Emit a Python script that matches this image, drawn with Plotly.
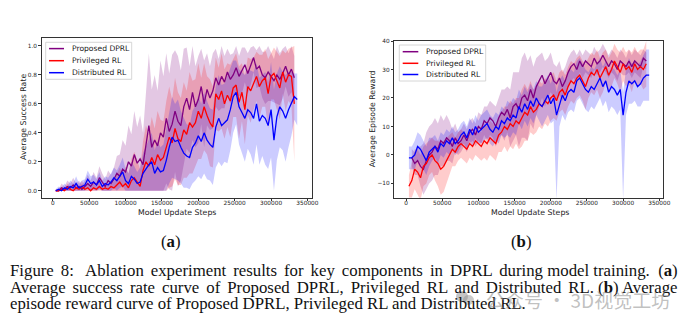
import numpy as np
import plotly.graph_objects as go

W, H = 688, 329
def px(x): return x / W
def py(y): return 1 - y / H

series_names = ["Proposed DPRL", "Privileged RL", "Distributed RL"]
series_colors = ["#800080", "#ff0000", "#0000ff"]
band_colors = ["rgba(128,0,128,0.22)", "rgba(255,0,0,0.2)", "rgba(0,0,255,0.2)"]

steps = list(range(4000, 340001, 4000))

# ---------------- (a) success rate ----------------
purple_a = [0.00,0.00,0.02,0.01,0.03,0.02,0.04,0.02,0.03,0.01,
            0.03,0.05,0.03,0.06,0.04,0.09,0.06,0.03,0.07,0.05,
            0.08,0.12,0.10,0.15,0.13,0.20,0.17,0.25,0.19,0.22,
            0.18,0.30,0.45,0.30,0.35,0.31,0.40,0.37,0.50,0.41,
            0.46,0.55,0.48,0.45,0.58,0.64,0.56,0.68,0.58,0.63,
            0.72,0.60,0.70,0.64,0.69,0.78,0.73,0.79,0.75,0.82,
            0.77,0.80,0.85,0.79,0.83,0.87,0.81,0.86,0.92,0.84,
            0.86,0.80,0.78,0.82,0.79,0.76,0.80,0.77,0.81,0.86,
            0.80,0.84,0.78]
purple_a_spread = [0.01,0.01,0.03,0.02,0.04,0.03,0.05,0.03,0.04,0.03,
                   0.04,0.06,0.04,0.07,0.05,0.08,0.06,0.05,0.07,0.06,
                   0.08,0.12,0.15,0.20,0.18,0.25,0.22,0.30,0.25,0.30,
                   0.22,0.35,0.50,0.40,0.45,0.38,0.50,0.42,0.45,0.40,
                   0.48,0.42,0.45,0.38,0.40,0.35,0.30,0.33,0.28,0.30,
                   0.26,0.30,0.25,0.22,0.26,0.20,0.18,0.22,0.18,0.16,
                   0.17,0.15,0.18,0.14,0.16,0.12,0.14,0.13,0.10,0.13,
                   0.14,0.16,0.18,0.20,0.17,0.15,0.20,0.18,0.17,0.14,
                   0.15,0.16,0.15]
red_a = [0.00,0.00,0.01,0.00,0.02,0.01,0.00,0.02,0.01,0.03,
         0.01,0.02,0.00,0.02,0.01,0.03,0.01,0.02,0.01,0.03,
         0.02,0.04,0.06,0.03,0.05,0.02,0.07,0.09,0.06,0.03,
         0.14,0.20,0.17,0.23,0.18,0.25,0.21,0.23,0.30,0.37,
         0.33,0.43,0.36,0.34,0.42,0.39,0.47,0.44,0.47,0.55,
         0.50,0.58,0.52,0.47,0.44,0.67,0.63,0.69,0.60,0.66,
         0.62,0.71,0.73,0.61,0.68,0.56,0.72,0.69,0.74,0.79,
         0.72,0.76,0.78,0.67,0.79,0.81,0.76,0.71,0.82,0.75,
         0.80,0.79,0.60]
red_a_spread = [0.01,0.01,0.02,0.01,0.03,0.02,0.01,0.03,0.02,0.04,
                0.02,0.03,0.02,0.03,0.02,0.04,0.02,0.03,0.02,0.04,
                0.04,0.08,0.10,0.08,0.12,0.10,0.15,0.18,0.15,0.12,
                0.20,0.25,0.22,0.28,0.25,0.30,0.28,0.25,0.32,0.35,
                0.30,0.35,0.32,0.30,0.33,0.30,0.35,0.32,0.30,0.33,
                0.28,0.30,0.27,0.30,0.28,0.25,0.22,0.26,0.24,0.22,
                0.25,0.20,0.22,0.25,0.20,0.24,0.20,0.22,0.18,0.17,
                0.22,0.18,0.20,0.24,0.16,0.18,0.20,0.22,0.15,0.20,
                0.18,0.20,0.40]
blue_a = [0.00,0.01,0.00,0.02,0.01,0.03,0.02,0.05,0.02,0.03,
          0.04,0.08,0.05,0.06,0.04,0.07,0.03,0.05,0.04,0.06,
          0.09,0.07,0.10,0.13,0.07,0.05,0.10,0.08,0.05,0.06,
          0.12,0.15,0.18,0.20,0.12,0.16,0.13,0.14,0.21,0.30,
          0.37,0.34,0.35,0.30,0.26,0.24,0.23,0.30,0.33,0.38,
          0.34,0.40,0.35,0.32,0.30,0.44,0.50,0.45,0.47,0.49,
          0.56,0.65,0.68,0.58,0.54,0.50,0.56,0.54,0.50,0.60,
          0.48,0.52,0.50,0.45,0.56,0.35,0.51,0.58,0.55,0.50,
          0.56,0.60,0.65,0.63]
blue_a_spread = [0.01,0.02,0.02,0.03,0.02,0.04,0.03,0.05,0.03,0.04,
                 0.04,0.06,0.05,0.05,0.04,0.06,0.04,0.05,0.05,0.06,
                 0.07,0.07,0.08,0.10,0.08,0.07,0.10,0.09,0.08,0.10,
                 0.14,0.16,0.18,0.20,0.16,0.18,0.17,0.18,0.22,0.25,
                 0.28,0.26,0.28,0.25,0.24,0.22,0.22,0.25,0.26,0.28,
                 0.26,0.28,0.27,0.25,0.26,0.28,0.30,0.28,0.27,0.30,
                 0.28,0.25,0.22,0.26,0.28,0.30,0.27,0.29,0.32,0.28,
                 0.30,0.28,0.32,0.30,0.33,0.35,0.30,0.28,0.27,0.30,
                 0.26,0.22,0.16,0.18]

# ---------------- (b) episode reward ----------------
purple_b = [-1,-3,-2,-4,-5,-2,0,1,3,2,
            5,4,6,5,3,6,4,5,7,5,
            8,9,7,10,9,12,11,13,12,10,
            13,15,14,16,13,17,18,16,20,21,
            19,23,20,24,26,28,25,27,29,26,
            25,27,24,26,29,31,32,30,33,31,
            33,32,31,34,32,33,35,33,31,33,
            32,30,33,32,31,33,31,33,32,31,
            34,33]
purple_b_spread = [3,4,5,7,9,10,10,10,10,9,
                   9,8,8,7,6,5,4,4,4,4,
                   4,4,4,5,5,5,6,6,6,7,
                   7,8,9,8,10,12,11,13,14,15,
                   14,12,11,10,9,8,8,7,7,6,
                   6,6,5,5,5,5,5,5,4,4,
                   4,4,4,4,4,4,4,4,4,4,
                   4,4,4,4,3,4,4,4,4,4,
                   3,3]
red_b = [-11,-9,-5,-6,-8,-4,-3,-1,0,-2,
         -3,-5,-4,-2,0,2,1,3,4,3,
         2,4,3,5,4,3,5,4,6,5,
         4,7,8,10,9,11,10,12,11,13,
         15,14,17,15,16,18,17,19,18,20,
         21,19,22,23,21,24,26,25,27,28,
         26,24,27,29,28,30,27,29,31,28,
         30,33,31,29,32,30,31,29,32,30,
         31,30,32]
red_b_spread = [4,6,7,8,8,7,7,6,6,7,
                8,9,9,8,7,6,5,5,5,5,
                5,5,5,5,5,5,6,6,6,6,
                6,6,7,7,8,8,8,8,9,10,
                10,9,9,8,8,8,8,8,8,8,
                8,7,7,7,7,7,7,7,7,7,
                7,8,7,7,7,7,7,7,6,6,
                6,6,6,7,6,6,6,7,6,6,
                6,7,8]
blue_b = [-1,-1,0,3,2,0,-2,1,2,3,
          1,4,3,5,4,6,4,5,7,8,
          6,9,7,10,8,9,10,11,9,8,
          10,9,12,11,13,12,14,13,17,15,
          18,16,19,17,20,18,17,19,21,18,
          20,14,18,21,19,22,23,22,26,27,
          25,23,22,24,23,25,27,24,26,22,
          24,23,21,23,14,22,26,25,26,24,
          25,27,28,28]
blue_b_spread = [4,4,5,5,5,5,5,5,4,4,
                 4,4,4,4,4,4,4,4,4,4,
                 4,4,4,4,4,5,5,5,5,5,
                 5,5,5,5,6,6,6,6,6,6,
                 6,6,6,6,6,6,7,7,7,7,
                 8,8,8,7,7,7,7,7,7,7,
                 7,7,7,7,7,7,7,7,7,7,
                 7,7,7,7,8,8,8,7,7,7,
                 8,8,9,9]
blue_b_dip_steps = [208000, 300000]
blue_b_dip_low = [-16, -16]

xa_ticks = [0, 50000, 100000, 150000, 200000, 250000, 300000, 350000]
ya_ticks = [0.0, 0.2, 0.4, 0.6, 0.8, 1.0]
yb_ticks = [-10, 0, 10, 20, 30, 40]

fig = go.Figure()

def add_series(xs, mean, spread, color, band, xref, yref, lo_clip=None, hi_clip=None, dips=None):
    n = min(len(xs), len(mean), len(spread))
    xs = list(xs[:n]); m = np.array(mean[:n], float); s = np.array(spread[:n], float)
    lo = m - s; hi = m + s
    if lo_clip is not None: lo = np.maximum(lo, lo_clip)
    if hi_clip is not None: hi = np.minimum(hi, hi_clip)
    if dips:
        for st, v in zip(*dips):
            if st in xs: lo[xs.index(st)] = v
    band_tr = go.Scatter(x=xs + xs[::-1], y=list(hi) + list(lo[::-1]), fill="toself",
                         fillcolor=band, line=dict(width=0), mode="lines",
                         hoverinfo="skip", showlegend=False, xaxis=xref, yaxis=yref)
    line_tr = go.Scatter(x=xs, y=list(m), mode="lines", line=dict(color=color, width=1.3),
                         showlegend=False, xaxis=xref, yaxis=yref)
    return band_tr, line_tr

sa = [add_series(steps, purple_a, purple_a_spread, series_colors[0], band_colors[0], "x", "y", 0, 1),
      add_series(steps, red_a, red_a_spread, series_colors[1], band_colors[1], "x", "y", 0, 1),
      add_series(steps, blue_a, blue_a_spread, series_colors[2], band_colors[2], "x", "y", 0, 1)]
sb = [add_series(steps[1:], purple_b, purple_b_spread, series_colors[0], band_colors[0], "x2", "y2"),
      add_series(steps, red_b, red_b_spread, series_colors[1], band_colors[1], "x2", "y2"),
      add_series(steps, blue_b, blue_b_spread, series_colors[2], band_colors[2], "x2", "y2",
                 dips=(blue_b_dip_steps, blue_b_dip_low))]
for group in (sa, sb):
    for b, l in group:
        fig.add_trace(b)
    for b, l in group:
        fig.add_trace(l)

tickfont = dict(family="DejaVu Sans", size=5.8, color="#222")
ax = dict(showline=True, mirror=True, linecolor="#333", linewidth=0.9, ticks="outside",
          ticklen=2.5, tickwidth=0.8, tickcolor="#333", showgrid=False, zeroline=False,
          tickfont=tickfont, automargin=False)

fig.update_layout(
    width=W, height=H, autosize=False, margin=dict(l=0, r=0, t=0, b=0),
    paper_bgcolor="white", plot_bgcolor="white", showlegend=False,
    xaxis=dict(ax, domain=[px(41.7), px(312)], range=[-15300, 356300], tickvals=xa_ticks,
               ticktext=[str(v) for v in xa_ticks], anchor="y", ticklabelstandoff=-3),
    yaxis=dict(ax, domain=[py(198), py(38)], range=[-0.05, 1.055], tickvals=ya_ticks,
               tickformat=".1f", anchor="x"),
    xaxis2=dict(ax, domain=[px(394.3), px(662.7)], range=[-16200, 354700], tickvals=xa_ticks,
                ticktext=[str(v) for v in xa_ticks], anchor="y2", ticklabelstandoff=-3),
    yaxis2=dict(ax, domain=[py(197.7), py(41)], range=[-15, 40], tickvals=yb_ticks, anchor="x2"),
)

annotations = []
shapes = []
lab = dict(family="DejaVu Sans", size=7.8, color="#222")
def ann(x, y, text, font, xanchor="center", textangle=0):
    annotations.append(dict(x=px(x), y=py(y), xref="paper", yref="paper", text=text,
                            showarrow=False, font=font, xanchor=xanchor, yanchor="middle",
                            textangle=textangle))
ann(177, 212, "Model Update Steps", lab)
ann(23.3, 116.7, "Average Success Rate", lab, textangle=-90)
ann(529.5, 212, "Model Update Steps", lab)
ann(373.3, 119, "Average Episode Reward", lab, textangle=-90)

# legends
def legend(x0, x1, y0, y1, rows, lx0, lx1, tx):
    shapes.append(dict(type="rect", xref="paper", yref="paper", x0=px(x0), x1=px(x1),
                       y0=py(y1), y1=py(y0), line=dict(color="#cccccc", width=0.8),
                       fillcolor="rgba(255,255,255,0.85)", layer="above"))
    for name, col, ry in zip(series_names, series_colors, rows):
        shapes.append(dict(type="line", xref="paper", yref="paper", x0=px(lx0), x1=px(lx1),
                           y0=py(ry), y1=py(ry), line=dict(color=col, width=1.5), layer="above"))
        ann(tx, ry, name, dict(family="DejaVu Sans", size=7.6, color="#222"), xanchor="left")
legend(45.7, 131.7, 42.3, 79.3, [48.6, 60.7, 72.7], 49, 64, 69.5)
legend(399.3, 485.7, 45, 81, [51.7, 63.3, 74.5], 402.7, 418.3, 423.5)

serif = dict(family="Liberation Serif", size=16.8, color="#111")
ann(171, 241, "(<b>a</b>)", serif)
ann(521, 241, "(<b>b</b>)", serif)
sp = " \u2006"

def justify(words, n_plain):
    # words joined by widened spaces, except the last n_plain gaps which use a normal space
    gaps = len(words) - 1
    out = words[0]
    for i in range(1, len(words)):
        out += (" " if i > gaps - n_plain else sp) + words[i]
    return out

line1_words = ["Figure", "8:\u00a0", "Ablation", "experiment", "results", "for", "key", "components",
               "in", "DPRL", "during", "model", "training.\u00a0", "(<b>a</b>)"]
line2_words = "Average success rate curve of Proposed DPRL, Privileged RL and Distributed RL. (<b>b</b>) Average".split(" ")
ann(8, 270, justify(line1_words, 3), serif, xanchor="left")
ann(8, 287, justify(line2_words, 2), serif, xanchor="left")
ann(8, 303.5, "episode reward curve of Proposed DPRL, Privileged RL and Distributed RL.", serif, xanchor="left")
# watermark
ann(484, 299, "公众号 · 3D视觉工坊", dict(family="Noto Sans CJK SC", size=19, color="rgba(140,140,140,0.55)"), xanchor="left")
shapes.append(dict(type="circle", xref="paper", yref="paper", x0=px(456), x1=px(468),
                   y0=py(302), y1=py(291), fillcolor="rgba(140,140,140,0.5)", line=dict(width=0), layer="above"))
shapes.append(dict(type="circle", xref="paper", yref="paper", x0=px(463), x1=px(474),
                   y0=py(305), y1=py(295), fillcolor="rgba(140,140,140,0.45)", line=dict(width=0), layer="above"))

fig.update_layout(annotations=annotations, shapes=shapes)
fig.write_html("out.html")
